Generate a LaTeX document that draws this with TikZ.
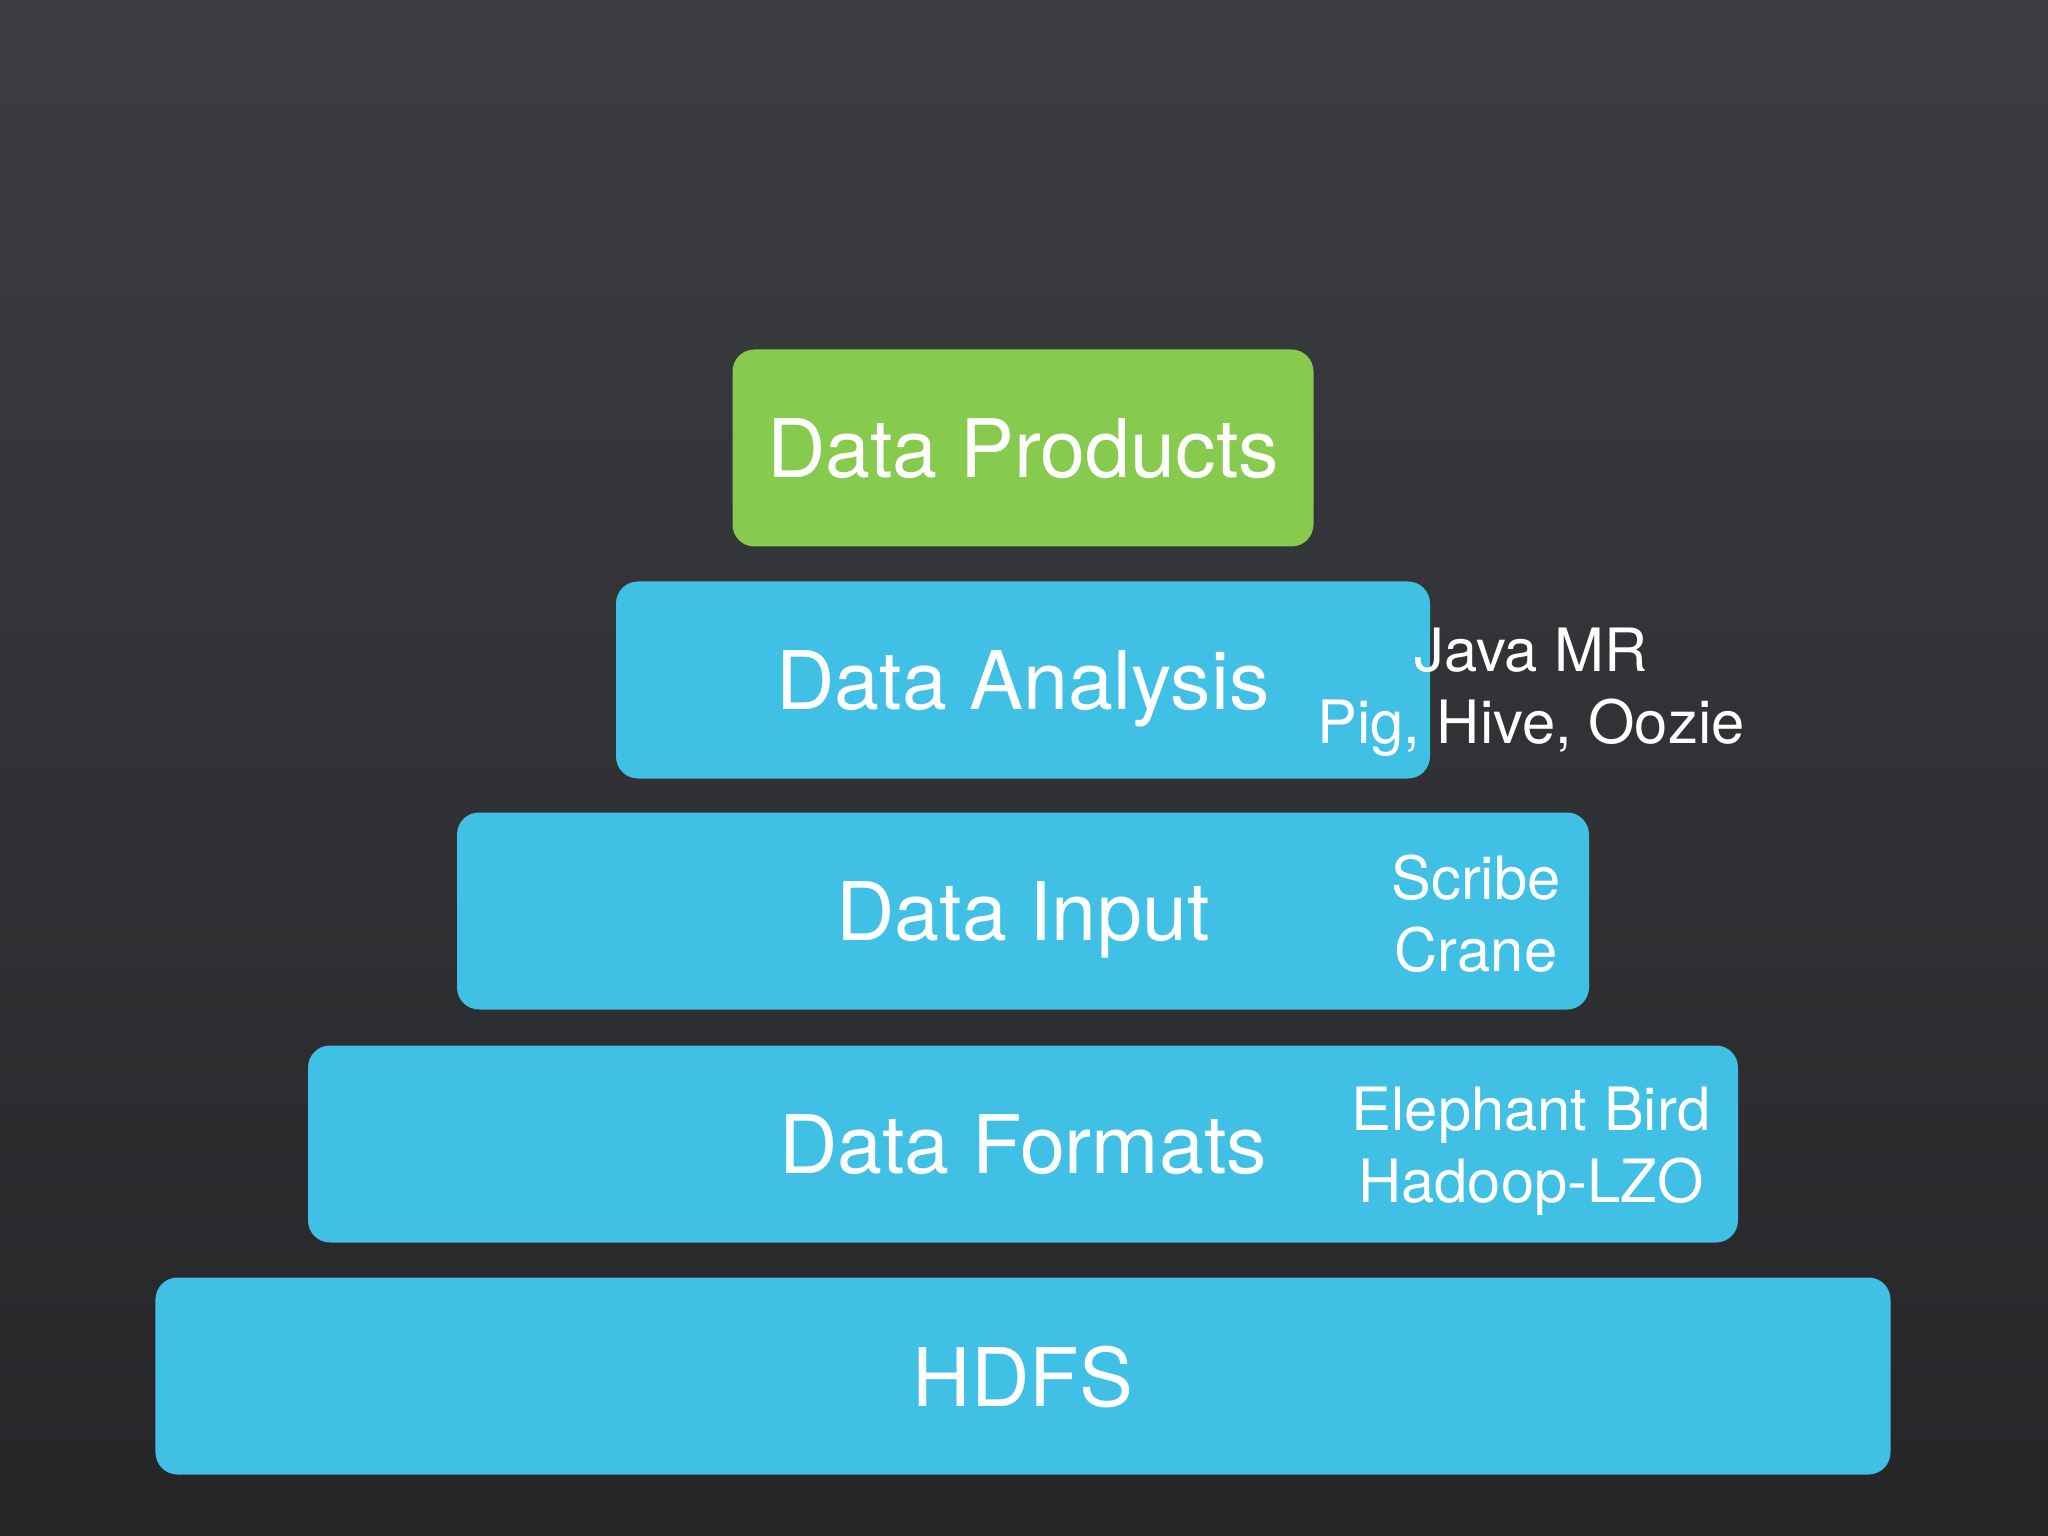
\documentclass[tikz,border=0pt]{standalone}
\usepackage{fontspec}
\setmainfont{TeX Gyre Heros}
\usepackage{tikz}

\definecolor{bgtop}{RGB}{60,61,65}
\definecolor{bgbottom}{RGB}{38,38,41}
\definecolor{layerblue}{RGB}{65,192,229}
\definecolor{layergreen}{RGB}{134,203,78}

\tikzset{
  layer/.style={rounded corners=0.22cm, fill=layerblue, minimum height=1.97cm,
    inner sep=0pt, text=white, text depth=0pt, font=\fontsize{23}{27}\selectfont},
  toolnote/.style={align=center, text=white, inner sep=0pt, text depth=0pt,
    font=\fontsize{17}{20.5}\selectfont}
}

\begin{document}
\begin{tikzpicture}
            \shade[top color=bgtop, bottom color=bgbottom] (0,0) rectangle (20.48,-15.36);
            \useasboundingbox (0,0) rectangle (20.48,-15.36);
            % the stack, top to bottom
            \node[layer, fill=layergreen, minimum width=5.81cm] (products) at (10.23,-4.48) {Data Products};
            \node[layer, minimum width=8.14cm] (analysis) at (10.23,-6.80) {Data Analysis};
            \node[layer, minimum width=11.32cm] (input) at (10.23,-9.11) {Data Input};
            \node[layer, minimum width=14.30cm] (formats) at (10.23,-11.44) {Data Formats};
            \node[layer, minimum width=17.35cm] (hdfs) at (10.23,-13.76) {HDFS};
            % tools next to each layer
            \node[toolnote] (analysistools) at (15.31,-6.86) {Java MR\\Pig, Hive, Oozie};
            \node[toolnote] (inputtools) at (14.76,-9.13) {Scribe\\Crane};
            \node[toolnote] (formattools) at (15.31,-11.45) {Elephant Bird\\Hadoop-LZO};
        \end{tikzpicture}
\end{document}
